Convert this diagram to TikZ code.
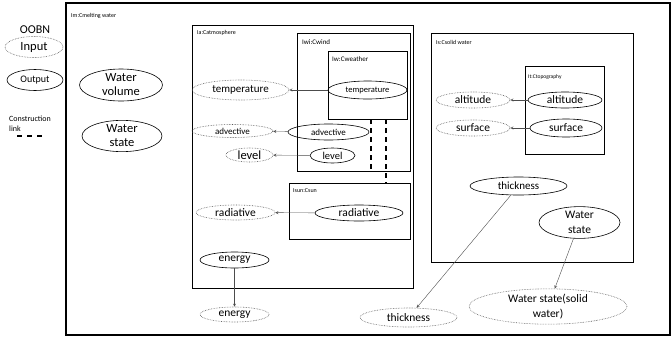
\documentclass[tikz,border=0pt]{standalone}
\usepackage{fontspec}
\setmainfont{Carlito}
\usepackage{tikz}
\usetikzlibrary{shapes.geometric}
\tikzstyle{entree} = [ellipse, draw=black!65, densely dotted, line width=0.6pt, inner sep=0pt, align=center, font=\fontsize{11.5}{13}\selectfont]
\tikzstyle{sortie} = [ellipse, draw=black, line width=0.6pt, inner sep=0pt, align=center, font=\fontsize{11.5}{13}\selectfont]
\tikzstyle{classe} = [rectangle, draw=black, line width=0.9pt, inner sep=0pt]
\tikzstyle{titre} = [anchor=north west, inner sep=0pt, font=\fontsize{6}{7}\selectfont]
\tikzstyle{fleche} = [->, >=stealth, draw=black!70, line width=0.4pt]
\tikzstyle{lien} = [draw=black, line width=1.2pt, dash pattern=on 5pt off 4pt]

\begin{document}
\begin{tikzpicture}[x=1pt, y=-1pt]
        \useasboundingbox (0,0) rectangle (672,338);

        % legende
        \node (oobn) [font=\fontsize{12}{14}\selectfont] at (35,30) {OOBN};
        \node (in) [entree, minimum width=58, minimum height=21, font=\fontsize{12.5}{14}\selectfont] at (34,47) {Input};
        \node (out) [sortie, minimum width=56, minimum height=21, font=\fontsize{10}{12}\selectfont] at (35,80) {Output};
        \node (cl) [anchor=north west, inner sep=0pt, align=left, font=\fontsize{8}{10}\selectfont] at (9,116) {Construction\\link};
        \coordinate (cl1) at (17,136);
        \coordinate (cl2) at (43,136);
        \draw[lien, line width=1.4pt, dash pattern=on 5pt off 5pt] (cl1) -- (cl2);

        % classes
        \node (melt) [classe, minimum width=604, minimum height=332, line width=1.1pt] at (368,169) {};
        \node (atmo) [classe, minimum width=221, minimum height=263] at (302.5,156.5) {};
        \node (wind) [classe, minimum width=113, minimum height=138] at (353.5,102) {};
        \node (weat) [classe, minimum width=79, minimum height=68] at (367.5,85) {};
        \node (sun)  [classe, minimum width=121, minimum height=56] at (349.5,211) {};
        \node (solid) [classe, minimum width=202, minimum height=229] at (532,147.5) {};
        \node (topo) [classe, minimum width=79, minimum height=88] at (564.5,110) {};

        \node (tmelt) [titre] at (71,13) {Im:Cmelting water};
        \node (tatmo) [titre] at (197,30) {Ia:Catmosphere};
        \node (twind) [titre, font=\fontsize{7}{8}\selectfont] at (302,39) {Iwi:Cwind};
        \node (tweat) [titre, font=\fontsize{7}{8}\selectfont] at (332,56) {Iw:Cweather};
        \node (tsun)  [titre] at (293,188) {Isun:Csun};
        \node (tsolid) [titre] at (436,40) {Is:Csolid water};
        \node (ttopo) [titre, font=\fontsize{5.5}{7}\selectfont] at (528,74) {It:Ctopography};

        % melting water
        \node (wvol) [sortie, minimum width=83, minimum height=32, font=\fontsize{12.5}{14}\selectfont] at (121,85) {Water\\volume};
        \node (wsta) [sortie, minimum width=80, minimum height=31, font=\fontsize{12.5}{14}\selectfont] at (122,136) {Water\\state};

        % atmosphere
        \node (tmp1) [sortie, minimum width=79, minimum height=18, font=\fontsize{8.5}{10}\selectfont] at (367.5,90) {temperature};
        \node (tmp2) [entree, minimum width=97, minimum height=20, font=\fontsize{11}{13}\selectfont] at (240.5,90) {temperature};
        \node (adv1) [sortie, minimum width=81, minimum height=16, font=\fontsize{9}{11}\selectfont] at (328.5,132) {advective};
        \node (adv2) [entree, minimum width=81, minimum height=13, font=\fontsize{9}{11}\selectfont] at (232.5,131) {advective};
        \node (lev1) [sortie, minimum width=45, minimum height=15, font=\fontsize{10.5}{12}\selectfont] at (332.5,155.5) {level};
        \node (lev2) [entree, minimum width=47, minimum height=14, font=\fontsize{12.5}{14}\selectfont] at (249.5,155) {level};
        \node (rad1) [sortie, minimum width=88, minimum height=16] at (359,213) {radiative};
        \node (rad2) [entree, minimum width=79, minimum height=15] at (235.5,212.5) {radiative};
        \node (ene1) [sortie, minimum width=69, minimum height=16] at (234.5,260) {energy};
        \node (ene2) [entree, minimum width=69, minimum height=15] at (234.5,314.5) {energy};

        % solid water
        \node (alt1) [sortie, minimum width=74, minimum height=16] at (565,100) {altitude};
        \node (alt2) [entree, minimum width=74, minimum height=16] at (473,100) {altitude};
        \node (sur1) [sortie, minimum width=72, minimum height=18] at (566,128) {surface};
        \node (sur2) [entree, minimum width=74, minimum height=16] at (473,128) {surface};
        \node (thk1) [sortie, minimum width=97, minimum height=18, font=\fontsize{11}{13}\selectfont] at (518.5,186) {thickness};
        \node (thk2) [entree, minimum width=97, minimum height=19] at (408.5,317.5) {thickness};
        \node (ws1) [sortie, minimum width=81, minimum height=31, font=\fontsize{11.5}{15}\selectfont] at (579.5,222.5) {Water\\state};
        \node (ws2) [entree, minimum width=158, minimum height=31, font=\fontsize{11.5}{15}\selectfont] at (548,306.5) {Water state(solid\\water)};

        % liens
        \draw[fleche] (tmp1) -- (tmp2);
        \draw[fleche] (adv1) -- (adv2);
        \draw[fleche] (lev1) -- (lev2);
        \draw[fleche] (rad1) -- (rad2);
        \draw[fleche] (ene1) -- (ene2);
        \draw[fleche] (alt1) -- (alt2);
        \draw[fleche] (sur1) -- (sur2);
        \draw[fleche] (thk1) -- (thk2);
        \draw[fleche] (ws1) -- (ws2);

        \draw[lien] ([xshift=3.5pt]weat.south) -- ([xshift=3.5pt]weat.south |- wind.south);
        \draw[lien] ([xshift=18.5pt]weat.south) -- ([xshift=18.5pt]weat.south |- sun.north);
    \end{tikzpicture}
\end{document}
